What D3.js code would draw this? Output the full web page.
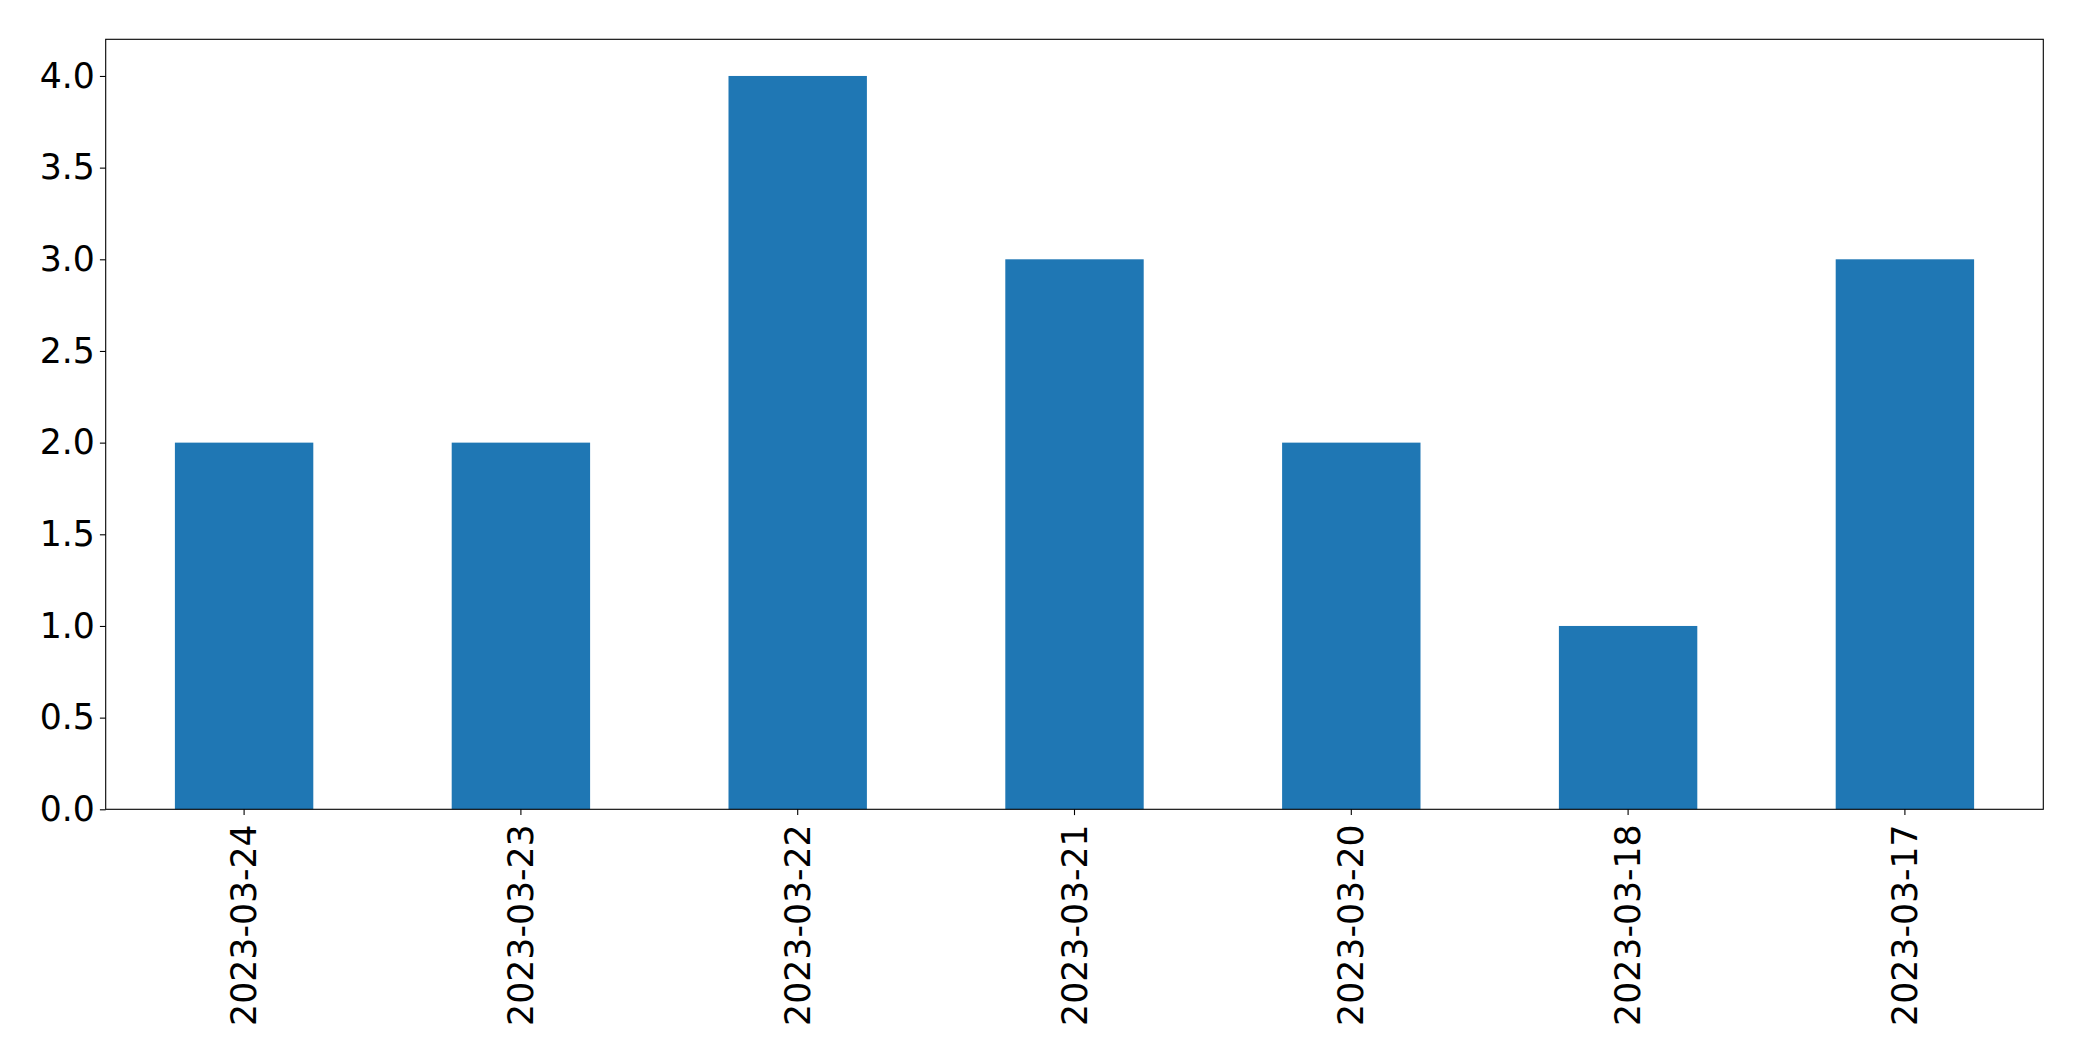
<!DOCTYPE html>
<html><head><meta charset="utf-8">
<script src="https://cdn.jsdelivr.net/npm/d3@7"></script>
<style>body{margin:0;background:#fff;} text{font-family:"DejaVu Sans",sans-serif;}</style>
</head><body>
<svg id="c" width="2082" height="1061"></svg>
<script>
const categories = ["2023-03-24","2023-03-23","2023-03-22","2023-03-21","2023-03-20","2023-03-18","2023-03-17"];
const values = [2,2,4,3,2,1,3];
const yTicks = [0,0.5,1.0,1.5,2.0,2.5,3.0,3.5,4.0];

const svg = d3.select("#c");
const L=105.7, R=2043.3, T=39.3, B=809.3;
const FS=34.7;
const x = d3.scaleBand().domain(categories).range([L,R]).paddingInner(0.5).paddingOuter(0.25);
const y = d3.scaleLinear().domain([0,4.2]).range([B,T]);

svg.append("g").selectAll("rect").data(values).join("rect")
  .attr("x",(d,i)=>x(categories[i])).attr("width",x.bandwidth())
  .attr("y",d=>y(d)).attr("height",d=>B-y(d)).attr("fill","#1f77b4");

const ya = svg.append("g").attr("transform",`translate(${L},0)`)
  .call(d3.axisLeft(y).tickValues(yTicks).tickFormat(d3.format(".1f")).tickSize(5.8).tickPadding(5));
ya.select(".domain").remove();
ya.selectAll("text").attr("font-size",FS).attr("fill","#000").attr("font-family","DejaVu Sans");
ya.selectAll("line").attr("stroke","#000").attr("stroke-width",1.1);

const xa = svg.append("g").attr("transform",`translate(0,${B})`)
  .call(d3.axisBottom(x).tickSize(5.8).tickPadding(8));
xa.select(".domain").remove();
xa.selectAll("line").attr("stroke","#000").attr("stroke-width",1.1);
xa.selectAll("text").attr("font-size",FS).attr("fill","#000").attr("font-family","DejaVu Sans")
  .attr("transform","rotate(-90)").attr("text-anchor","end").attr("dy","0.35em")
  .attr("x",-15).attr("y",0);

svg.append("rect").attr("x",L).attr("y",T).attr("width",R-L).attr("height",B-T)
  .attr("fill","none").attr("stroke","#000").attr("stroke-width",1.1);
</script>
</body></html>
